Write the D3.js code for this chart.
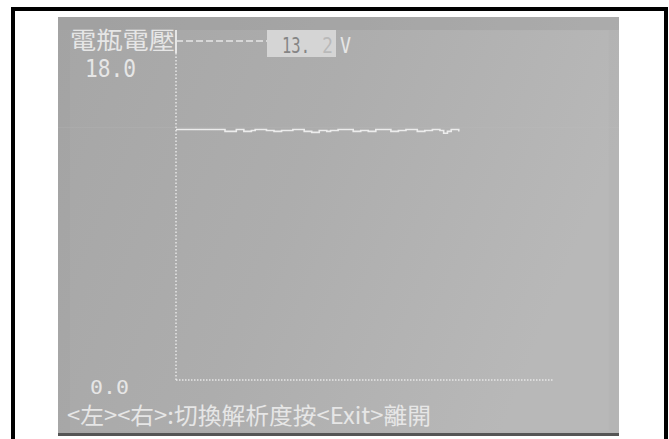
<!DOCTYPE html>
<html>
<head>
<meta charset="utf-8">
<script src="https://cdn.jsdelivr.net/npm/d3@7/dist/d3.min.js"></script>
<style>
  html, body { margin: 0; padding: 0; background: #fff; }
  svg { display: block; }
</style>
</head>
<body>
<svg id="chart" width="669" height="439"></svg>
<script>
// Battery voltage trace (V), one sample per time step
const voltage = [
  13.3, 13.3, 13.3, 13.3, 13.3, 13.3, 13.3, 13.3, 13.3, 13.3,
  13.3, 13.3, 13.3, 13.2, 13.2, 13.2, 13.3, 13.3, 13.2, 13.2,
  13.25, 13.3, 13.3, 13.3, 13.25, 13.25, 13.2, 13.2, 13.25, 13.25,
  13.25, 13.3, 13.3, 13.3, 13.2, 13.2, 13.15, 13.15, 13.25, 13.25,
  13.2, 13.25, 13.25, 13.3, 13.3, 13.3, 13.3, 13.2, 13.2, 13.25,
  13.25, 13.2, 13.2, 13.3, 13.3, 13.3, 13.3, 13.2, 13.2, 13.25,
  13.25, 13.3, 13.3, 13.3, 13.2, 13.2, 13.25, 13.25, 13.3, 13.3,
  13.25, 13.1, 13.2, 13.3, 13.3, 13.2
];
const xSamples = 100;                 // full width of the time axis in samples
const yTicks = [0, 18];               // axis end labels
const titleText = "電瓶電壓";
const unitText = "V";
const helpText = "<左><右>:切換解析度按<Exit>離開";

const svg = d3.select("#chart");

// Page frame
svg.append("path")
  .attr("d", "M13,439 V9 H666 V439")
  .attr("fill", "none").attr("stroke", "#000").attr("stroke-width", 4);

// LCD screen
const defs = svg.append("defs");
const g1 = defs.append("linearGradient").attr("id", "lcd").attr("x1", 0).attr("x2", 1).attr("y1", 0).attr("y2", 0.3);
g1.append("stop").attr("offset", 0).attr("stop-color", "#a3a3a3");
g1.append("stop").attr("offset", 0.5).attr("stop-color", "#aaaaaa");
g1.append("stop").attr("offset", 1).attr("stop-color", "#b5b5b5");

svg.append("rect").attr("x", 58).attr("y", 17).attr("width", 561).attr("height", 418).attr("fill", "url(#lcd)");
svg.append("rect").attr("x", 58).attr("y", 17).attr("width", 561).attr("height", 13).attr("fill", "#9e9e9e").attr("opacity", 0.35);
svg.append("rect").attr("x", 70).attr("y", 30).attr("width", 539).attr("height", 401)
  .attr("fill", "#ffffff").attr("opacity", 0.04)
  .attr("stroke", "#c4c4c4").attr("stroke-opacity", 0.4).attr("stroke-width", 1);
svg.append("rect").attr("x", 58).attr("y", 433).attr("width", 561).attr("height", 3).attr("fill", "#555");

// Scales
const x = d3.scaleLinear().domain([0, xSamples]).range([176, 553]);
const y = d3.scaleLinear().domain([yTicks[0], yTicks[1]]).range([380, 41]);

const light = "#e6e6e6";

// Faint raster row along the trace level
svg.append("line").attr("x1", 58).attr("x2", 619)
  .attr("y1", y(13.3) - 2).attr("y2", y(13.3) - 2)
  .attr("stroke", "#c4c4c4").attr("stroke-opacity", 0.18).attr("stroke-width", 1);

// Axes drawn as dotted pixel lines
svg.append("line").attr("x1", x(0)).attr("x2", x(0)).attr("y1", 53).attr("y2", y(0))
  .attr("stroke", light).attr("stroke-width", 1.5).attr("stroke-dasharray", "1.5,2");
svg.append("line").attr("x1", x(0)).attr("x2", x(xSamples)).attr("y1", y(0)).attr("y2", y(0))
  .attr("stroke", light).attr("stroke-width", 1.5).attr("stroke-dasharray", "1.5,1.5");

// Title with its connector to the current reading
svg.append("text").attr("x", 70).attr("y", 49)
  .attr("font-family", "Noto Sans CJK TC").attr("font-size", 24)
  .attr("textLength", 105).attr("lengthAdjust", "spacingAndGlyphs")
  .attr("fill", light).text(titleText);
svg.append("line").attr("x1", x(0)).attr("x2", x(0)).attr("y1", 30).attr("y2", 53)
  .attr("stroke", light).attr("stroke-width", 2);
svg.append("line").attr("x1", x(0)).attr("x2", 267).attr("y1", y(18)).attr("y2", y(18))
  .attr("stroke", light).attr("stroke-width", 1.5).attr("stroke-dasharray", "7,3");

// Current reading box: integer part and a half-refreshed last digit
const current = voltage[voltage.length - 1];
const reading = current.toFixed(1);
svg.append("rect").attr("x", 267).attr("y", 30).attr("width", 69).attr("height", 27).attr("fill", "#d5d5d5");
svg.append("text").attr("x", 282).attr("y", 53)
  .attr("font-family", "DejaVu Sans Mono").attr("font-size", 22)
  .attr("textLength", 28).attr("lengthAdjust", "spacingAndGlyphs")
  .attr("fill", "#858585").text(reading.slice(0, -1));
svg.append("text").attr("x", 322).attr("y", 53)
  .attr("font-family", "DejaVu Sans Mono").attr("font-size", 22)
  .attr("textLength", 11).attr("lengthAdjust", "spacingAndGlyphs")
  .attr("fill", "#858585").attr("fill-opacity", 0.35).text(reading.slice(-1));
svg.append("text").attr("x", 340).attr("y", 53)
  .attr("font-family", "DejaVu Sans Mono").attr("font-size", 22)
  .attr("textLength", 11).attr("lengthAdjust", "spacingAndGlyphs")
  .attr("fill", light).text(unitText);

// Axis end labels
svg.append("text").attr("x", 85).attr("y", 77)
  .attr("font-family", "DejaVu Sans Mono").attr("font-size", 24)
  .attr("textLength", 51).attr("lengthAdjust", "spacingAndGlyphs")
  .attr("fill", light).text(yTicks[1].toFixed(1));
svg.append("text").attr("x", 90).attr("y", 394)
  .attr("font-family", "DejaVu Sans Mono").attr("font-size", 20)
  .attr("textLength", 39).attr("lengthAdjust", "spacingAndGlyphs")
  .attr("fill", light).text(yTicks[0].toFixed(1));

// Voltage trace as a stepped pixel line
const line = d3.line().x((d, i) => x(i)).y(d => y(d)).curve(d3.curveStepAfter);
svg.append("path").datum(voltage)
  .attr("d", line)
  .attr("fill", "none").attr("stroke", "#ececec").attr("stroke-width", 1.6);

// Key help line
svg.append("text").attr("x", 67).attr("y", 424)
  .attr("font-family", "Noto Sans CJK TC").attr("font-size", 23)
  .attr("textLength", 364).attr("lengthAdjust", "spacingAndGlyphs")
  .attr("fill", light).text(helpText);
</script>
</body>
</html>
